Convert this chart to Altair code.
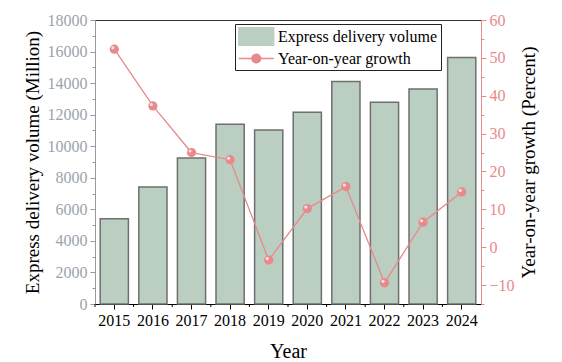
import altair as alt
import pandas as pd

years = ["2015", "2016", "2017", "2018", "2019", "2020", "2021", "2022", "2023", "2024"]
volume = [5400, 7410, 9250, 11390, 11030, 12150, 14110, 12780, 13630, 15630]
growth = [52.3, 37.3, 25.0, 23.1, -3.4, 10.2, 16.0, -9.4, 6.6, 14.6]
left_ticks = list(range(0, 18001, 1000))
right_ticks = list(range(-15, 61, 5))

VOL = "Express delivery volume"
GRO = "Year-on-year growth"
BAR_FILL = "#bbcec2"
BAR_STROKE = "#6f6f6f"
LINE_C = "#e8898b"
LEFT_C = "#9aa3ad"
FONT = "Liberation Serif"
W, H = 386, 284

df = pd.DataFrame({"year": years, "volume": volume, "growth": growth})

color_scale = alt.Scale(domain=[VOL, GRO], range=[BAR_FILL, LINE_C])

legend = alt.Legend(
    title=None,
    orient="none",
    legendX=140,
    legendY=4,
    padding=3,
    fillColor="white",
    strokeColor="#222222",
    labelFont=FONT,
    labelFontSize=16,
    labelColor="black",
    labelOffset=21,
    labelLimit=0,
    rowPadding=1,
    symbolSize=306,
    symbolStrokeWidth=1.3,
    symbolType=alt.ExprRef(
        expr="datum.value === '" + VOL + "' ? 'M-1,-1H3V1H-1Z' : "
        "'M-1,0H0.49M1.51,0H3M0.49,0A0.51,0.51,0,1,0,1.51,0A0.51,0.51,0,1,0,0.49,0Z'"
    ),
    symbolFillColor=alt.ExprRef(
        expr="datum.value === '" + VOL + "' ? '" + BAR_FILL + "' : '" + LINE_C + "'"
    ),
    symbolStrokeColor=alt.ExprRef(
        expr="datum.value === '" + VOL + "' ? '" + BAR_STROKE + "' : '" + LINE_C + "'"
    ),
)

color_enc = alt.Color("series:N", scale=color_scale, legend=legend)

x_axis = alt.Axis(
    title="Year",
    labelAngle=0,
    labelFont=FONT,
    labelFontSize=16,
    labelColor="black",
    labelPadding=3,
    domainColor="black",
    tickColor="black",
    tickSize=5,
    titleFont=FONT,
    titleFontSize=20,
    titleFontWeight="normal",
    titleColor="black",
    titlePadding=13,
    grid=False,
)
x_scale = alt.Scale(paddingInner=0, paddingOuter=0)
x_enc = alt.X("year:N", sort=years, scale=x_scale, axis=x_axis)

bars = alt.Chart(df).transform_calculate(series="'" + VOL + "'").mark_bar(
    width=alt.RelativeBandSize(0.73), stroke=BAR_STROKE, strokeWidth=1.5
).encode(
    x=x_enc,
    y=alt.Y(
        "volume:Q",
        scale=alt.Scale(domain=[0, 18000], nice=False, zero=True),
        axis=alt.Axis(
            orient="left",
            title="Express delivery volume (Million)",
            values=left_ticks,
            format="d",
            labelOverlap=False,
            labelExpr="datum.value % 2000 === 0 ? datum.label : ''",
            tickSize={"condition": {"test": "datum.value % 2000 === 0", "value": 5}, "value": 3},
            labelFont=FONT,
            labelFontSize=16,
            labelColor=LEFT_C,
            labelPadding=3,
            domainColor="#999999",
            tickColor="#999999",
            titleFont=FONT,
            titleFontSize=19,
            titleFontWeight="normal",
            titleColor="black",
            titlePadding=5,
            grid=False,
        ),
    ),
    color=color_enc,
)

minor_x = alt.Chart(df).mark_rule(color="black", strokeWidth=1).encode(
    x=alt.X("year:N", sort=years, scale=x_scale, axis=x_axis, bandPosition=0),
    y=alt.value(H),
    y2=alt.value(H + 3),
)

left = alt.layer(bars, minor_x)

y_right = alt.Y(
    "growth:Q",
    scale=alt.Scale(domain=[-15, 60], nice=False, zero=False),
    axis=alt.Axis(
        orient="right",
        title="Year-on-year growth (Percent)",
        values=right_ticks,
        format="d",
        labelOverlap=False,
        labelExpr="(datum.value % 10 === 0) ? datum.label : ''",
        tickSize={"condition": {"test": "datum.value % 10 === 0", "value": 5}, "value": 3},
        labelFont=FONT,
        labelFontSize=16,
        labelColor=LINE_C,
        labelPadding=3,
        domainColor=LINE_C,
        tickColor=LINE_C,
        titleFont=FONT,
        titleFontSize=19,
        titleFontWeight="normal",
        titleColor="black",
        titleAngle=270,
        titleBaseline="top",
        titlePadding=5,
        grid=False,
    ),
)

line = alt.Chart(df).transform_calculate(series="'" + GRO + "'").mark_line(strokeWidth=1.3).encode(
    x=x_enc,
    y=y_right,
    color=color_enc,
)
points = alt.Chart(df).transform_calculate(series="'" + GRO + "'").mark_circle(size=85, opacity=1).encode(
    x=x_enc,
    y=y_right,
    color=color_enc,
)
shine = alt.Chart(df).mark_circle(size=10, opacity=0.75, color="white", xOffset=-1.5, yOffset=-1.5).encode(
    x=x_enc,
    y=y_right,
)

right = alt.layer(line, points, shine)

chart = (
    alt.layer(left, right)
    .resolve_scale(y="independent")
    .properties(
        width=W,
        height=H,
        autosize=alt.AutoSizeParams(type="none"),
        padding={"left": 87, "top": 12, "right": 67, "bottom": 60},
    )
    .configure_view(stroke="#333333", strokeWidth=1)
)

chart.save("out.html", embed_options={"renderer": "svg", "actions": False})
